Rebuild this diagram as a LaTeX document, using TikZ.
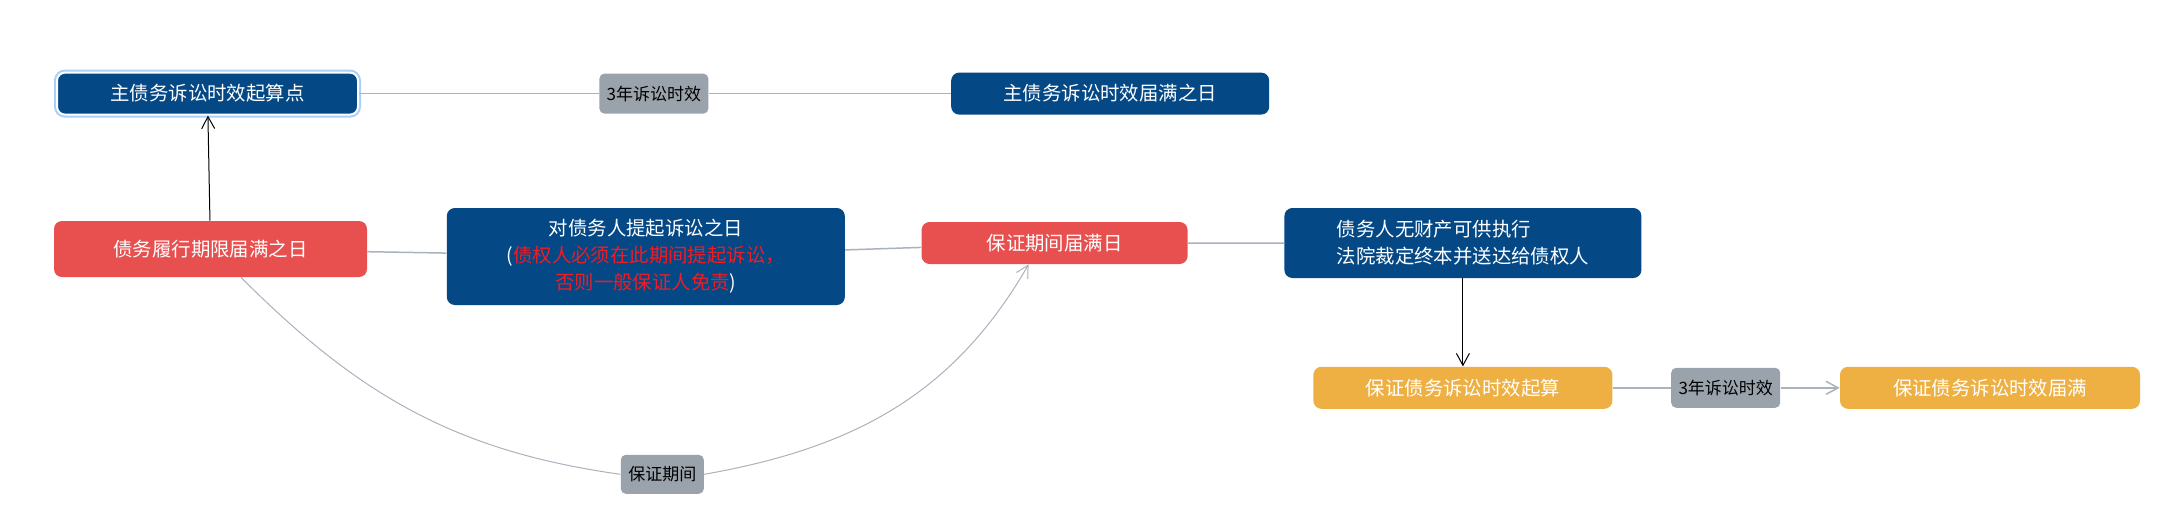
\documentclass[tikz,border=0pt]{standalone}
\usepackage{fontspec}
\usepackage{tikz}
\usetikzlibrary{positioning,arrows.meta}
\newfontfamily\cjk{Noto Sans CJK SC}
\definecolor{navy}{RGB}{4,72,134}
\definecolor{coral}{RGB}{232,80,80}
\definecolor{amber}{RGB}{238,176,67}
\definecolor{tagfill}{RGB}{154,162,171}
\definecolor{wire}{RGB}{170,178,188}
\definecolor{ring}{RGB}{168,208,248}
\definecolor{warn}{RGB}{240,28,36}
\def\boxfont{\cjk\fontsize{9.7pt}{13.5pt}\selectfont}
\def\tagfont{\cjk\fontsize{8.5pt}{10pt}\selectfont}
\tikzset{
	card/.style={rounded corners=4pt, inner sep=0pt, text=white, font=\boxfont, align=center},
	bluecard/.style={card, fill=navy},
	redcard/.style={card, fill=coral},
	yellowcard/.style={card, fill=amber},
	tagcard/.style={rounded corners=2.5pt, inner sep=0pt, fill=tagfill, text=black, font=\tagfont, minimum width=54.5pt, minimum height=20pt},
	link/.style={draw=wire, line width=0.75pt},
	selected/.style={preaction={draw=ring, line width=3pt}, draw=white, line width=1pt}
}

\begin{document}
\begin{tikzpicture}[x=0.5pt, y=-0.5pt, >={Straight Barb[length=6pt, width=6.5pt]}]
			\useasboundingbox (0,0) rectangle (2162,525);
			\node[redcard, minimum width=156.5pt, minimum height=28pt] at (210.5,249) (duedate) {债务履行期限届满之日};
			\node[bluecard, selected, minimum width=150.5pt, minimum height=21pt, above = 52.5pt of duedate, xshift=-1.5pt] (mainstart) {主债务诉讼时效起算点};
			\node[tagcard, right = 120pt of mainstart] (lblmain) {3年诉讼时效};
			\node[bluecard, minimum width=159pt, minimum height=21pt, right = 121pt of lblmain] (mainend) {主债务诉讼时效届满之日};
			\node[bluecard, minimum width=199pt, minimum height=48.5pt, right = 39.5pt of duedate, yshift=-3.75pt] (sue) {对债务人提起诉讼之日\\(\textcolor{warn}{债权人必须在此期间提起诉讼，}\\\textcolor{warn}{否则一般保证人免责})};
			\node[redcard, minimum width=133pt, minimum height=21pt, right = 38pt of sue, yshift=6.75pt] (guarend) {保证期间届满日};
			\node[bluecard, align=left, minimum width=178.5pt, minimum height=35pt, right = 48pt of guarend] (nopay) {债务人无财产可供执行\\法院裁定终本并送达给债权人};
			\node[yellowcard, minimum width=149.5pt, minimum height=21pt, below = 44pt of nopay] (gstart) {保证债务诉讼时效起算};
			\node[tagcard, right = 29pt of gstart] (lblguar) {3年诉讼时效};
			\node[yellowcard, minimum width=150pt, minimum height=21pt, right = 29.5pt of lblguar] (gend) {保证债务诉讼时效届满};
			\node[tagcard, minimum width=41.5pt, minimum height=19.5pt, below = 74.5pt of sue, xshift=8.25pt] (lblperiod) {保证期间};
			\draw[link] (mainstart) -- (lblmain) -- (mainend);
			\draw[link] (duedate) -- (sue) -- (guarend) -- (nopay);
			\draw[link] (gstart) -- (lblguar);
			\draw[link, ->] (lblguar) -- (gend);
			\draw[->, line width=0.5pt] (duedate) -- (mainstart);
			\draw[->, line width=0.5pt] (nopay) -- (gstart);
			\draw[link, line width=0.5pt] ([xshift=15.25pt]duedate.south) to[out=-45, in=172] (lblperiod.west);
			\draw[link, line width=0.5pt, ->] (lblperiod.east) to[out=10, in=-120] ([xshift=-13pt]guarend.south);
		\end{tikzpicture}
\end{document}
